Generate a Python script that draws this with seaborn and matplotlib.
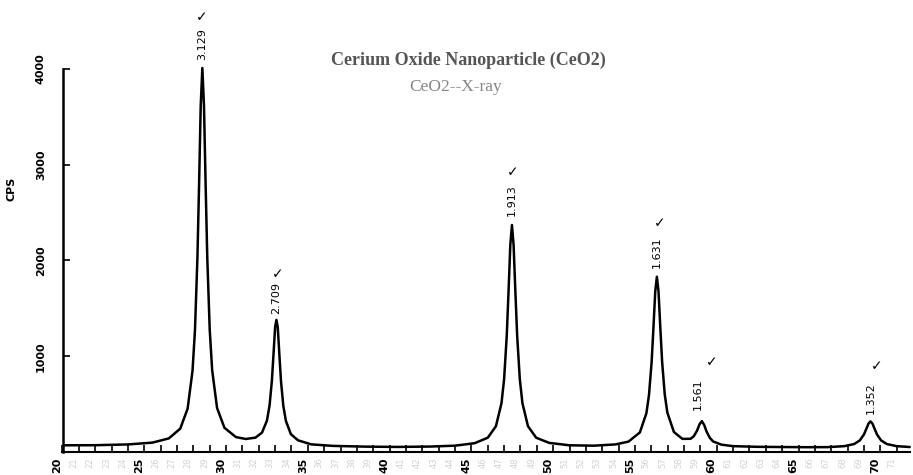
import matplotlib
matplotlib.use("Agg")
import matplotlib.pyplot as plt
import matplotlib.transforms as mtransforms
import seaborn as sns
import pandas as pd

# ---- data ----
two_theta = [20, 22, 24, 25.5, 26.5, 27.2, 27.65, 27.95, 28.1, 28.25, 28.35, 28.45, 28.55,
             28.65, 28.75, 28.85, 29.0, 29.15, 29.45, 29.9, 30.6, 31.2, 31.8, 32.2, 32.5,
             32.66, 32.8, 32.9, 33.0, 33.08, 33.16, 33.26, 33.36, 33.5, 33.66, 33.96, 34.4,
             35.2, 36.5, 38.5, 40.5, 42.5, 44.0, 45.2, 46.0, 46.5, 46.84, 47.0, 47.16, 47.27,
             47.38, 47.48, 47.58, 47.69, 47.8, 47.96, 48.12, 48.46, 48.96, 49.76, 51.0, 52.5,
             53.8, 54.6, 55.3, 55.7, 55.86, 56.02, 56.13, 56.24, 56.34, 56.44, 56.55, 56.66,
             56.82, 56.98, 57.38, 57.9, 58.4, 58.6, 58.8, 58.95, 59.09, 59.23, 59.38, 59.58,
             59.78, 60.28, 61.0, 62.5, 64.0, 65.5, 66.8, 67.8, 68.4, 68.75, 69.0, 69.15, 69.28,
             69.4, 69.52, 69.65, 69.8, 70.05, 70.4, 71.0, 71.8]
intensity = [70, 71, 79, 98, 142, 244, 453, 848, 1275, 2033, 2791, 3613, 4010,
             3618, 2796, 2038, 1281, 855, 460, 253, 156, 136, 150, 203, 328,
             486, 741, 1018, 1306, 1380, 1304, 1016, 738, 483, 324, 187, 122,
             80, 64, 56, 53, 57, 66, 92, 149, 269, 510, 761, 1208, 1671,
             2163, 2370, 2163, 1671, 1208, 761, 510, 269, 149, 95, 70, 66,
             79, 108, 204, 405, 598, 941, 1296, 1674, 1830, 1679, 1301, 946,
             604, 412, 209, 137, 138, 165, 224, 290, 322, 283, 213, 147,
             110, 77, 61, 54, 52, 50, 51, 61, 83, 121, 183, 243, 297,
             320, 297, 243, 183, 121, 83, 61, 52]

# d-spacing annotations (label position and check-mark position)
d_labels = ["3.129", "2.709", "1.913", "1.631", "1.561", "1.352"]
d_label_x = [28.52, 33.05, 47.45, 56.32, 58.87, 69.45]
d_label_y = [4261, 1608, 2632, 2089, 606, 564]
check_x = [28.50, 33.15, 47.55, 56.50, 59.72, 69.80]
check_y = [4543, 1859, 2924, 2392, 940, 898]

major_ticks = [20, 25, 30, 35, 40, 45, 50, 55, 60, 65, 70]
major_labels = ["20", "25", "30", "35", "40", "45", "50", "55", "60", "65", "70"]
minor_ticks = [t for t in range(20, 72) if t % 5 != 0]
minor_labels = [str(t) for t in minor_ticks]
y_ticks = [1000, 2000, 3000, 4000]
y_labels = ["1000", "2000", "3000", "4000"]

title_text = "Cerium Oxide Nanoparticle (CeO2)"
subtitle_text = "CeO2--X-ray"
y_label_text = "CPS"

# ---- drawing ----
sns.set_theme(style="white")
plt.rcParams["font.family"] = ["DejaVu Sans"]

fig = plt.figure(figsize=(9.13, 4.75), dpi=100)
fig.patch.set_facecolor("white")
ax = fig.add_axes([62.5 / 913, 23 / 475, 850.5 / 913, 452 / 475])

df = pd.DataFrame({"two_theta": two_theta, "intensity": intensity})
sns.lineplot(data=df, x="two_theta", y="intensity", ax=ax, color="black",
             linewidth=1.8, estimator=None, sort=False)

ax.set_xlim(20, 72.0)
ax.set_ylim(0, 4720)
ax.set_facecolor("white")

for s in ["top", "right"]:
    ax.spines[s].set_visible(False)
ax.spines["left"].set_bounds(0, 4000)
ax.spines["left"].set_linewidth(1.8)
ax.spines["left"].set_color("black")
ax.spines["bottom"].set_bounds(20, 71.8)
ax.spines["bottom"].set_linewidth(1.5)
ax.spines["bottom"].set_color("black")

ax.set_xticks(major_ticks)
ax.set_xticklabels(major_labels, rotation=90, va="top", ha="center",
                   fontsize=8, fontweight="bold", color="black")
ax.set_xticks(minor_ticks, minor=True)
ax.set_xticklabels(minor_labels, minor=True, rotation=90, va="top", ha="center",
                   fontsize=6, color="#d2d2d2")
ax.tick_params(axis="x", which="both", direction="in", length=5, width=1.2,
               color="black", pad=4, bottom=True)

ax.set_yticks(y_ticks)
ax.set_yticklabels(y_labels, rotation=90, va="center", fontsize=8,
                   fontweight="bold", color="black")
ax.tick_params(axis="y", which="major", direction="in", length=5, width=1.2,
               color="black", pad=12, left=True)

offset = mtransforms.ScaledTranslation(-5 / 100, 0, fig.dpi_scale_trans)
for lab in ax.get_xticklabels() + ax.get_xticklabels(minor=True):
    lab.set_transform(lab.get_transform() + offset)

ax.set_xlabel("")
ax.set_ylabel(y_label_text, rotation=90, fontsize=8, fontweight="bold", color="black")
ax.yaxis.set_label_coords((16 - 62.5) / 850.5, (452 - 189) / 452)

for txt, x, y in zip(d_labels, d_label_x, d_label_y):
    ax.text(x, y, txt, rotation=90, ha="center", va="center", fontsize=8,
            color="black")
for x, y in zip(check_x, check_y):
    ax.text(x, y, "\u2713", ha="center", va="center", fontsize=10, color="black")

fig.text(468 / 913, 1 - 60 / 475, title_text, ha="center", va="center",
         fontsize=13, family="Liberation Serif", fontweight="bold", color="#555555")
fig.text(456 / 913, 1 - 87 / 475, subtitle_text, ha="center", va="center",
         fontsize=12.5, family="Liberation Serif", color="#858585")

fig.savefig("out.png", dpi=100, facecolor="white")
